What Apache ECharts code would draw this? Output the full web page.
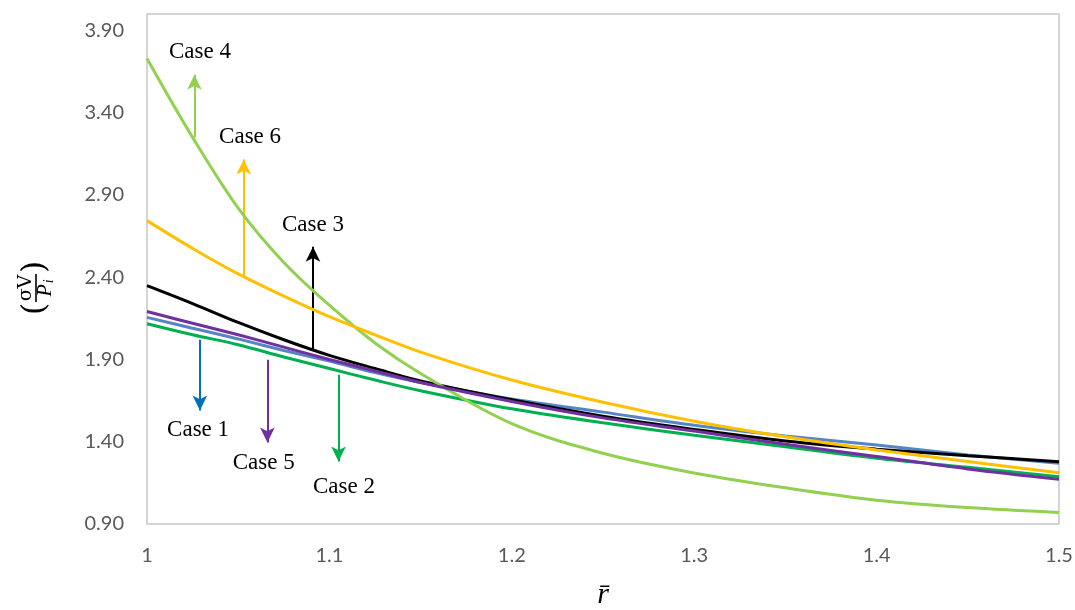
<!DOCTYPE html>
<html>
<head>
<meta charset="utf-8">
<script src="https://cdn.jsdelivr.net/npm/echarts@6/dist/echarts.min.js"></script>
<style>
  html, body { margin: 0; padding: 0; background: #fff; overflow: hidden; }
  #chart { width: 1075px; height: 610px; }
</style>
</head>
<body>
<div id="chart"></div>
<script>
// Normalised radius r̄ (shared x values for every case)
const rBar = [1.00, 1.025, 1.05, 1.075, 1.10, 1.125, 1.15, 1.20, 1.25, 1.30, 1.35, 1.40, 1.45, 1.50];

// Stress ratio σV / Pi for each case
const case1 = [2.156, 2.09, 2.025, 1.955, 1.89, 1.82, 1.76, 1.66, 1.58, 1.50, 1.435, 1.38, 1.32, 1.269];
const case2 = [2.117, 2.05, 1.99, 1.915, 1.845, 1.775, 1.71, 1.60, 1.515, 1.44, 1.37, 1.30, 1.245, 1.188];
const case3 = [2.349, 2.24, 2.125, 2.02, 1.925, 1.845, 1.77, 1.655, 1.555, 1.475, 1.405, 1.355, 1.315, 1.279];
const case4 = [3.73, 3.25, 2.82, 2.49, 2.23, 2.00, 1.815, 1.51, 1.33, 1.21, 1.12, 1.045, 1.00, 0.97];
const case5 = [2.192, 2.12, 2.05, 1.975, 1.90, 1.83, 1.76, 1.645, 1.545, 1.465, 1.385, 1.31, 1.235, 1.172];
const case6 = [2.744, 2.575, 2.42, 2.285, 2.16, 2.05, 1.945, 1.775, 1.64, 1.525, 1.43, 1.35, 1.28, 1.212];

// Callout arrows: [x, y start on curve, y end], label position [x, y]
const arrow1 = [1.029, 2.02, 1.59];   const label1 = [1.028, 1.472];
const arrow2 = [1.105, 1.807, 1.28];  const label2 = [1.108, 1.125];
const arrow3 = [1.091, 1.959, 2.585]; const label3 = [1.091, 2.72];
const arrow4 = [1.026, 3.25, 3.63];   const label4 = [1.029, 3.77];
const arrow5 = [1.066, 1.898, 1.395]; const label5 = [1.064, 1.271];
const arrow6 = [1.053, 2.403, 3.115]; const label6 = [1.0565, 3.255];

// Axis ticks
const xMin = 1.0, xMax = 1.5, xStep = 0.1;
const yMin = 0.9, yMax = 4.0, yStep = 0.5;

const caseNames = ['Case 1', 'Case 2', 'Case 3', 'Case 4', 'Case 5', 'Case 6'];
const caseValues = [case1, case2, case3, case4, case5, case6];
const arrows = [arrow1, arrow2, arrow3, arrow4, arrow5, arrow6];
const labels = [label1, label2, label3, label4, label5, label6];
const lineColors = ['#5585C5', '#00B050', '#000000', '#92D050', '#7030A0', '#FFC000'];
const arrowColors = ['#0070C0', '#00B050', '#000000', '#92D050', '#7030A0', '#FFC000'];

const serifFont = '"Liberation Serif", "Times New Roman", serif';

const series = caseNames.map((name, i) => ({
  name: name,
  type: 'line',
  data: rBar.map((x, k) => [x, caseValues[i][k]]),
  smooth: 0.35,
  symbol: 'none',
  lineStyle: { width: 3, color: lineColors[i] },
  itemStyle: { color: lineColors[i] },
  z: 2 + i,
  emphasis: { disabled: true },
  markLine: {
    silent: true,
    animation: false,
    symbol: ['none', 'arrow'],
    symbolSize: [11, 15],
    lineStyle: { type: 'solid', width: 2, color: arrowColors[i] },
    label: { show: false },
    emphasis: { disabled: true },
    data: [[
      { coord: [arrows[i][0], arrows[i][1]] },
      { coord: [arrows[i][0], arrows[i][2]] }
    ]]
  },
  markPoint: {
    silent: true,
    animation: false,
    symbol: 'circle',
    symbolSize: 1,
    itemStyle: { color: 'rgba(0,0,0,0)' },
    label: {
      show: true,
      position: 'inside',
      formatter: name,
      color: '#000',
      fontFamily: serifFont,
      fontSize: 23
    },
    data: [{ coord: labels[i] }]
  }
}));

const chart = echarts.init(document.getElementById('chart'), null, { renderer: 'canvas', width: 1075, height: 610 });
chart.setOption({
  animation: false,
  backgroundColor: '#ffffff',
  grid: {
    left: 147, right: 16, top: 14, bottom: 86,
    outerBoundsMode: 'none',
    containLabel: false,
    show: true, borderColor: '#C8C8C8', borderWidth: 1.5,
    backgroundColor: 'transparent'
  },
  xAxis: {
    type: 'value',
    min: xMin, max: xMax, interval: xStep,
    name: 'r\u0304',
    nameLocation: 'middle',
    nameGap: 56,
    nameTextStyle: { fontFamily: serifFont, fontStyle: 'italic', fontSize: 30, color: '#000' },
    axisLine: { show: false },
    axisTick: { show: false },
    splitLine: { show: false },
    axisLabel: {
      margin: 22,
      color: '#595959',
      fontFamily: 'Lato, "Open Sans", sans-serif',
      fontSize: 20,
      formatter: v => String(+v.toFixed(2))
    }
  },
  yAxis: {
    type: 'value',
    min: yMin, max: yMax, interval: yStep,
    axisLine: { show: false },
    axisTick: { show: false },
    splitLine: { show: false },
    axisLabel: {
      margin: 23,
      showMaxLabel: false,
      color: '#595959',
      fontFamily: 'Lato, "Open Sans", sans-serif',
      fontSize: 20,
      formatter: v => v.toFixed(2)
    }
  },
  graphic: [{
    // Rotated y-axis title: (σV / Pi)
    type: 'group',
    x: 35, y: 288,
    rotation: Math.PI / 2,
    silent: true,
    children: [
      { type: 'text', x: -21, y: 1, style: { text: '(', font: '31px "DejaVu Serif"', fill: '#000', align: 'center', verticalAlign: 'middle' } },
      { type: 'text', x: 0, y: -9, style: { text: 'σV', font: '19px "DejaVu Serif"', fill: '#000', align: 'center', verticalAlign: 'middle' } },
      { type: 'line', shape: { x1: -14, y1: 1, x2: 14, y2: 1 }, style: { stroke: '#000', lineWidth: 1.6 } },
      { type: 'text', x: 0, y: 11, style: {
          text: '{p|P}{s|i}', align: 'center', verticalAlign: 'middle',
          rich: {
            p: { font: 'italic 20px "Liberation Serif"', fill: '#000' },
            s: { font: 'italic 14px "Liberation Serif"', fill: '#000', padding: [6, 0, 0, 1] }
          }
      } },
      { type: 'text', x: 21, y: 1, style: { text: ')', font: '31px "DejaVu Serif"', fill: '#000', align: 'center', verticalAlign: 'middle' } }
    ]
  }],
  series: series
});
</script>
</body>
</html>
